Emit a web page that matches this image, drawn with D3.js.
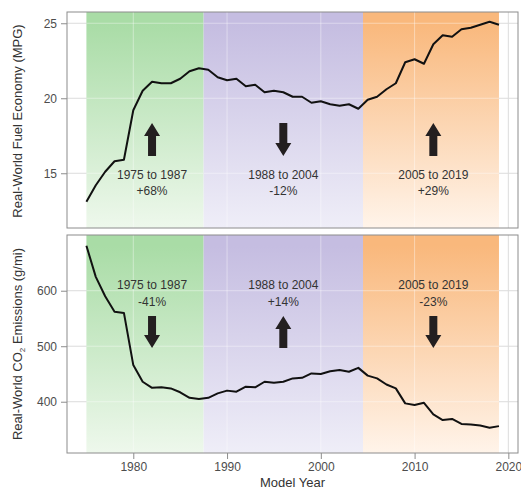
<!DOCTYPE html>
<html>
<head>
<meta charset="utf-8">
<script src="https://cdn.jsdelivr.net/npm/d3@7"></script>
<style>
  body { margin: 0; background: #fff; }
  svg { display: block; font-family: "Liberation Sans", Arial, sans-serif; }
</style>
</head>
<body>
<div id="chart"></div>
<script>
const width = 521;
const height = 493;

const years = d3.range(1975, 2020);
const mpg = [13.1, 14.2, 15.1, 15.8, 15.9, 19.2, 20.5, 21.1, 21.0, 21.0, 21.3, 21.8, 22.0,
  21.9, 21.4, 21.2, 21.3, 20.8, 20.9, 20.4, 20.5, 20.4, 20.1, 20.1, 19.7, 19.8, 19.6, 19.5, 19.6, 19.3,
  19.9, 20.1, 20.6, 21.0, 22.4, 22.6, 22.3, 23.6, 24.2, 24.1, 24.6, 24.7, 24.9, 25.1, 24.9];
const co2 = [681, 625, 590, 562, 560, 466, 436, 425, 426, 424, 417, 407, 405,
  407, 415, 420, 418, 427, 426, 436, 434, 436, 442, 443, 451, 450, 455, 457, 454, 461,
  447, 442, 431, 424, 397, 394, 398, 377, 367, 369, 360, 359, 357, 353, 356];

const periods = [
  { label: "1975 to 1987", start: 1975, end: 1987.5, arrowYear: 1982 },
  { label: "1988 to 2004", start: 1987.5, end: 2004.5, arrowYear: 1996 },
  { label: "2005 to 2019", start: 2004.5, end: 2019, arrowYear: 2012 }
];
const mpgChange = ["+68%", "-12%", "+29%"];
const co2Change = ["-41%", "+14%", "-23%"];

const xTicks = [1980, 1990, 2000, 2010, 2020];
const mpgTicks = [15, 20, 25];
const co2Ticks = [400, 500, 600];

const fills = [
  { top: "#a9dca6", bottom: "#eef8ec" },
  { top: "#c5bde1", bottom: "#efeef8" },
  { top: "#f9b87c", bottom: "#fff4ea" }
];

const left = 67, right = 518;

const svg = d3.select("#chart")
  .append("svg")
  .attr("width", width)
  .attr("height", height);

const defs = svg.append("defs");
fills.forEach((f, i) => {
  const g = defs.append("linearGradient")
    .attr("id", "grad" + i)
    .attr("x1", 0).attr("y1", 0).attr("x2", 0).attr("y2", 1);
  g.append("stop").attr("offset", "0.05").attr("stop-color", f.top);
  g.append("stop").attr("offset", "1").attr("stop-color", f.bottom);
});

const x = d3.scaleLinear()
  .domain([1972.93, 2021.03])
  .range([left, right]);

const panels = [
  {
    top: 12, bottom: 228, domain: [11.35, 25.75], ticks: mpgTicks, values: mpg,
    changes: mpgChange, textY: [175, 191], arrowY: [123, 156]
  },
  {
    top: 235, bottom: 453, domain: [307.6, 700.4], ticks: co2Ticks, values: co2,
    changes: co2Change, textY: [285, 302], arrowY: [316, 348]
  }
];

panels.forEach((p, pi) => {
  const y = d3.scaleLinear()
    .domain(p.domain)
    .range([p.bottom, p.top]);

  const g = svg.append("g");

  g.append("rect")
    .attr("x", left).attr("y", p.top)
    .attr("width", right - left).attr("height", p.bottom - p.top)
    .attr("fill", "#fff");

  // gray grid for the white parts
  g.selectAll(".hgrid")
    .data(p.ticks)
    .join("line")
    .attr("x1", left).attr("x2", right)
    .attr("y1", d => y(d)).attr("y2", d => y(d))
    .attr("stroke", "#dcdcdc");

  g.selectAll(".vgrid")
    .data(xTicks)
    .join("line")
    .attr("x1", d => x(d)).attr("x2", d => x(d))
    .attr("y1", p.top).attr("y2", p.bottom)
    .attr("stroke", "#dcdcdc");

  g.selectAll(".region")
    .data(periods)
    .join("rect")
    .attr("x", d => x(d.start))
    .attr("width", d => x(d.end) - x(d.start))
    .attr("y", p.top)
    .attr("height", p.bottom - p.top)
    .attr("fill", (d, i) => `url(#grad${i})`);

  // faint white grid over the shading
  periods.forEach(per => {
    g.selectAll(null)
      .data(p.ticks)
      .join("line")
      .attr("x1", x(per.start)).attr("x2", x(per.end))
      .attr("y1", d => y(d)).attr("y2", d => y(d))
      .attr("stroke", "#fff")
      .attr("stroke-opacity", 0.4);
    g.selectAll(null)
      .data(xTicks.filter(t => t > per.start && t < per.end))
      .join("line")
      .attr("x1", d => x(d)).attr("x2", d => x(d))
      .attr("y1", p.top).attr("y2", p.bottom)
      .attr("stroke", "#fff")
      .attr("stroke-opacity", 0.4);
  });

  // annotations
  periods.forEach((per, i) => {
    const cx = x(per.arrowYear);
    const t = g.append("text")
      .attr("text-anchor", "middle")
      .attr("font-size", 12)
      .attr("fill", "#333");
    t.append("tspan").attr("x", cx).attr("y", p.textY[0] + 4).text(per.label);
    t.append("tspan").attr("x", cx).attr("y", p.textY[1] + 4).text(p.changes[i]);

    const up = p.changes[i].startsWith("+");
    const [a0, a1] = p.arrowY;
    const tip = up ? a0 : a1;
    const tail = up ? a1 : a0;
    const dir = up ? 1 : -1;
    const headLen = 13, headW = 8, shaftW = 4;
    const pts = [
      [cx, tip],
      [cx + headW, tip + dir * headLen],
      [cx + shaftW, tip + dir * headLen],
      [cx + shaftW, tail],
      [cx - shaftW, tail],
      [cx - shaftW, tip + dir * headLen],
      [cx - headW, tip + dir * headLen]
    ];
    g.append("path")
      .attr("d", "M" + pts.map(q => q.join(",")).join("L") + "Z")
      .attr("fill", "#231f20");
  });

  const line = d3.line()
    .x((d, i) => x(years[i]))
    .y(d => y(d));

  g.append("path")
    .datum(p.values)
    .attr("d", line)
    .attr("fill", "none")
    .attr("stroke", "#111")
    .attr("stroke-width", 2)
    .attr("stroke-linejoin", "round");

  g.append("rect")
    .attr("x", left).attr("y", p.top)
    .attr("width", right - left).attr("height", p.bottom - p.top)
    .attr("fill", "none")
    .attr("stroke", "#8c8c8c");

  const yAxis = g.append("g")
    .attr("transform", `translate(${left},0)`)
    .call(d3.axisLeft(y).tickValues(p.ticks).tickSize(6).tickPadding(4));
  yAxis.select(".domain").remove();
  yAxis.selectAll("line").attr("stroke", "#8c8c8c");
  yAxis.selectAll("text")
    .attr("font-size", 12)
    .attr("font-family", "Liberation Sans, Arial, sans-serif")
    .attr("fill", "#4d4d4d");

  if (pi === 1) {
    const xAxis = g.append("g")
      .attr("transform", `translate(0,${p.bottom})`)
      .call(d3.axisBottom(x).tickValues(xTicks).tickFormat(d3.format("d")).tickSize(6).tickPadding(3));
    xAxis.select(".domain").remove();
    xAxis.selectAll("line").attr("stroke", "#8c8c8c");
    xAxis.selectAll("text")
      .attr("font-size", 12)
      .attr("font-family", "Liberation Sans, Arial, sans-serif")
      .attr("fill", "#4d4d4d");
  }
});

// axis titles
svg.append("text")
  .attr("transform", "translate(22,121) rotate(-90)")
  .attr("text-anchor", "middle")
  .attr("font-size", 13)
  .attr("fill", "#333")
  .text("Real-World Fuel Economy (MPG)");

const co2Title = svg.append("text")
  .attr("transform", "translate(22,344) rotate(-90)")
  .attr("text-anchor", "middle")
  .attr("font-size", 13)
  .attr("fill", "#333");
co2Title.append("tspan").text("Real-World CO");
co2Title.append("tspan").attr("font-size", 8).attr("dy", 3).text("2");
co2Title.append("tspan").attr("dy", -3).text(" Emissions (g/mi)");

svg.append("text")
  .attr("x", (left + right) / 2)
  .attr("y", 487)
  .attr("text-anchor", "middle")
  .attr("font-size", 13)
  .attr("fill", "#333")
  .text("Model Year");
</script>
</body>
</html>
